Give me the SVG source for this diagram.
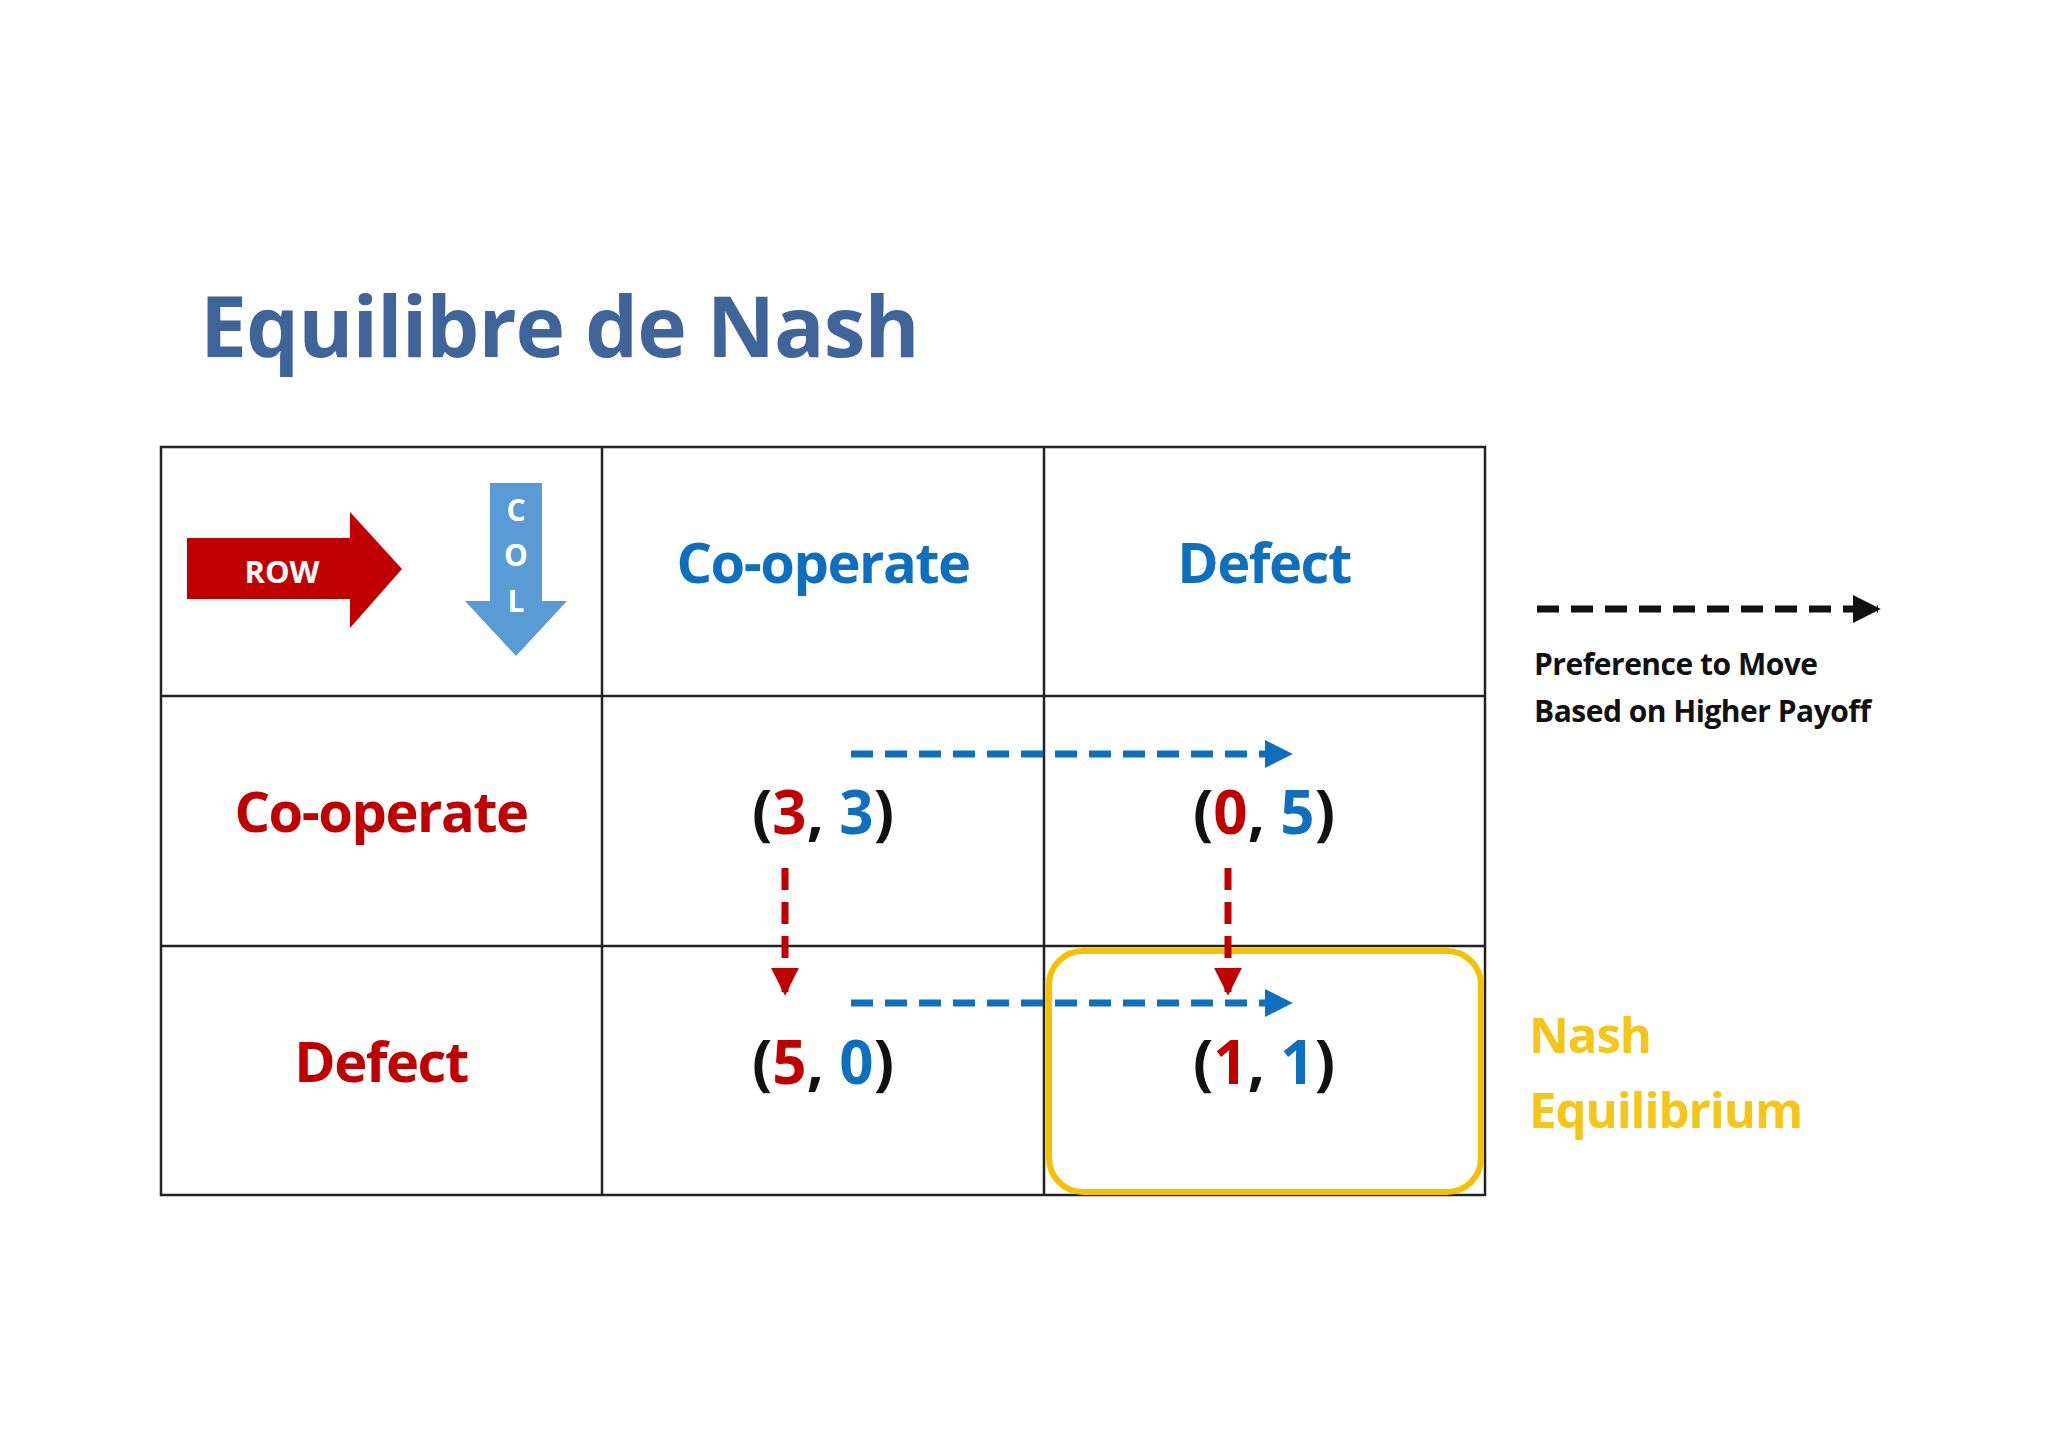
<svg xmlns="http://www.w3.org/2000/svg" width="2048" height="1448" viewBox="0 0 2048 1448">
<defs>
<style>
text{font-family:"Open Sans","Noto Sans",sans-serif;font-weight:bold}
.grid{stroke:#222;stroke-width:2.5;fill:none}
.hdr{fill:#0f6fbf;font-size:56px;text-anchor:middle;letter-spacing:-1.5px}
.rl{fill:#c00000;font-size:56px;text-anchor:middle;letter-spacing:-1.5px}
.pay{fill:#111;font-size:60px;text-anchor:middle}
.r{fill:#c00000}.b{fill:#0f6fbf}
.bd{stroke:#0f6fbf;stroke-width:7;stroke-dasharray:22,12;fill:none}
.rd{stroke:#c00000;stroke-width:7;stroke-dasharray:22,12;fill:none}
</style>
<marker id="mb" viewBox="0 0 10 10" refX="9" refY="5" markerWidth="4" markerHeight="4" orient="auto" markerUnits="strokeWidth"><path d="M0,0L10,5L0,10z" fill="#0f6fbf"/></marker>
<marker id="mr" viewBox="0 0 10 10" refX="9" refY="5" markerWidth="4" markerHeight="4" orient="auto" markerUnits="strokeWidth"><path d="M0,0L10,5L0,10z" fill="#c00000"/></marker>
<marker id="mk" viewBox="0 0 10 10" refX="9" refY="5" markerWidth="4" markerHeight="4" orient="auto" markerUnits="strokeWidth"><path d="M0,0L10,5L0,10z" fill="#111"/></marker>
</defs>
<rect width="2048" height="1448" fill="#fff"/>
<text x="200" y="357" font-size="84" fill="#3f6499" letter-spacing="-1">Equilibre de Nash</text>
<g id="table">
<rect class="grid" x="161" y="447" width="1324" height="748"/>
<line class="grid" x1="602" y1="447" x2="602" y2="1195"/>
<line class="grid" x1="1044" y1="447" x2="1044" y2="1195"/>
<line class="grid" x1="161" y1="696" x2="1485" y2="696"/>
<line class="grid" x1="161" y1="946" x2="1485" y2="946"/>
</g>
<g id="row-arrow">
<path d="M187,538H350V512L402,569L350,628V599H187Z" fill="#c00000"/>
<text x="282" y="583" font-size="31" fill="#fff" text-anchor="middle">ROW</text>
</g>
<g id="col-arrow">
<path d="M490,483H542V601H567L516,656L465,601H490Z" fill="#5b9bd5"/>
<text x="516" y="521" font-size="30" fill="#fff" text-anchor="middle">C</text>
<text x="516" y="566" font-size="30" fill="#fff" text-anchor="middle">O</text>
<text x="516" y="612" font-size="30" fill="#fff" text-anchor="middle">L</text>
</g>
<g id="headers">
<text class="hdr" x="823" y="583">Co-operate</text>
<text class="hdr" x="1264" y="583">Defect</text>
<text class="rl" x="381" y="832">Co-operate</text>
<text class="rl" x="381" y="1082">Defect</text>
</g>
<g id="payoffs">
<text class="pay" x="823" y="834">(<tspan class="r">3</tspan>, <tspan class="b">3</tspan>)</text>
<text class="pay" x="1264" y="834">(<tspan class="r">0</tspan>, <tspan class="b">5</tspan>)</text>
<text class="pay" x="823" y="1084">(<tspan class="r">5</tspan>, <tspan class="b">0</tspan>)</text>
<text class="pay" x="1264" y="1084">(<tspan class="r">1</tspan>, <tspan class="b">1</tspan>)</text>
</g>
<g id="nash">
<rect x="1049" y="951" width="432" height="241" rx="34" fill="none" stroke="#f5c000" stroke-width="6"/>
<text x="1529" y="1053" font-size="49" fill="#f5c518" letter-spacing="-1">Nash</text>
<text x="1529" y="1128" font-size="49" fill="#f5c518" letter-spacing="-1">Equilibrium</text>
</g>
<g id="connectors">
<line class="bd" x1="851" y1="754" x2="1290" y2="754" marker-end="url(#mb)"/>
<line class="bd" x1="851" y1="1003" x2="1290" y2="1003" marker-end="url(#mb)"/>
<line class="rd" x1="785" y1="868" x2="785" y2="993" marker-end="url(#mr)"/>
<line class="rd" x1="1228" y1="868" x2="1228" y2="993" marker-end="url(#mr)"/>
<line x1="1537" y1="609" x2="1878" y2="609" stroke="#111" stroke-width="7" stroke-dasharray="22,12" marker-end="url(#mk)"/>
</g>
<g id="legend">
<text x="1534" y="675" font-size="30" fill="#111" letter-spacing="-0.5">Preference to Move</text>
<text x="1534" y="722" font-size="30" fill="#111" letter-spacing="-0.5">Based on Higher Payoff</text>
</g>
</svg>
